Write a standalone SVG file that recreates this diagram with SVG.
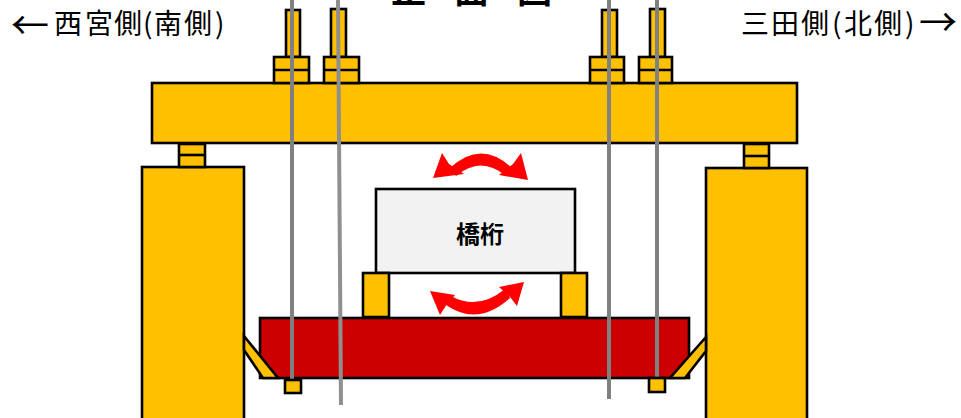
<svg xmlns="http://www.w3.org/2000/svg" width="961" height="418" viewBox="0 0 961 418">
  <style>
    .steel { fill: #FFC000; stroke: #000; stroke-width: 2.6; stroke-linejoin: miter; }
    .line { fill: none; stroke: #000; stroke-width: 2.6; }
    .rod { stroke: #808080; stroke-width: 4; fill: none; }
    .rod-light { stroke: #8f8f8f; stroke-width: 4; fill: none; }
    .label { font-family: "Noto Sans CJK JP", "Noto Sans", sans-serif; font-size: 28px; fill: #000; }
    .arrow-glyph { font-family: "Noto Sans CJK JP", "DejaVu Sans", sans-serif; font-size: 38px; fill: #000; }
    .title { font-family: "Noto Sans CJK JP", sans-serif; font-size: 35px; font-weight: bold; fill: #000; }
    .girder-text { font-family: "Noto Sans CJK JP", sans-serif; font-size: 24px; font-weight: bold; fill: #000; }
    .turn { fill: #FF0000; }
  </style>

  <!-- title, running off the top edge -->
  <text class="title" x="391" y="3">正</text>
  <text class="title" x="454" y="3">面</text>
  <text class="title" x="517" y="3">図</text>

  <!-- side labels -->
  <g id="label-west">
    <text class="arrow-glyph" x="11" y="39">←</text>
    <text class="label" y="34"><tspan x="54">西</tspan><tspan x="85">宮</tspan><tspan x="114">側</tspan><tspan x="143">(</tspan><tspan x="154">南</tspan><tspan x="184">側</tspan><tspan x="215">)</tspan></text>
  </g>
  <g id="label-north">
    <text class="label" y="34"><tspan x="741">三</tspan><tspan x="771">田</tspan><tspan x="801">側</tspan><tspan x="832">(</tspan><tspan x="844">北</tspan><tspan x="874">側</tspan><tspan x="905">)</tspan></text>
    <text class="arrow-glyph" x="919" y="36">→</text>
  </g>

  <!-- piers -->
  <g id="pier-south">
    <rect class="steel" x="142" y="167" width="102" height="260"/>
    <rect class="steel" x="179" y="144" width="26" height="23"/>
    <line class="line" x1="179" y1="155" x2="205" y2="155"/>
  </g>
  <g id="pier-north">
    <rect class="steel" x="706" y="168" width="101" height="260"/>
    <rect class="steel" x="744" y="144" width="25" height="24"/>
    <line class="line" x1="744" y1="156" x2="769" y2="156"/>
  </g>

  <!-- upper cross beam -->
  <g id="upper-beam">
    <rect class="steel" x="152" y="83" width="645" height="60"/>
  </g>

  <!-- jacks on top of the beam -->
  <g id="jack-1">
    <rect class="steel" x="286" y="10" width="14" height="47"/>
    <rect class="steel" x="274" y="57" width="35" height="26"/>
    <line class="line" x1="274" y1="70" x2="309" y2="70"/>
  </g>
  <g id="jack-2">
    <rect class="steel" x="331" y="9" width="15" height="48"/>
    <rect class="steel" x="324" y="57" width="35" height="26"/>
    <line class="line" x1="324" y1="70" x2="359" y2="70"/>
  </g>
  <g id="jack-3">
    <rect class="steel" x="602" y="10" width="15" height="47"/>
    <rect class="steel" x="590" y="57" width="34" height="26"/>
    <line class="line" x1="590" y1="70" x2="624" y2="70"/>
  </g>
  <g id="jack-4">
    <rect class="steel" x="650" y="9" width="15" height="48"/>
    <rect class="steel" x="639" y="57" width="33" height="26"/>
    <line class="line" x1="639" y1="70" x2="672" y2="70"/>
  </g>

  <!-- bridge girder with its bearings -->
  <g id="girder">
    <rect x="376" y="189" width="199" height="84" fill="#F2F2F2" stroke="#000" stroke-width="2.6"/>
    <text class="girder-text" x="456" y="243">橋桁</text>
  </g>
  <g id="bearing-south">
    <rect class="steel" x="363" y="273" width="26" height="44"/>
  </g>
  <g id="bearing-north">
    <rect class="steel" x="561" y="273" width="26" height="44"/>
  </g>

  <!-- lower red beam -->
  <g id="lower-beam">
    <rect x="260" y="318" width="429" height="60" fill="#CC0000" stroke="#000" stroke-width="2.6"/>
  </g>

  <!-- diagonal braces -->
  <g id="brace-south">
    <polygon class="steel" points="244,336 278,378 263,378 244,350"/>
  </g>
  <g id="brace-north">
    <polygon class="steel" points="706,337 670,378 685,378 706,351"/>
  </g>

  <!-- rotation arrows -->
  <g id="connectors">
    <path class="turn" d="M450,168 Q481,139 512,168 L506,176 Q481,155 456,176 Z"/>
    <polygon class="turn" points="433,178 442,153 449,164 464,174"/>
    <polygon class="turn" points="528,180 521,153 513,164 499,175"/>
    <path class="turn" d="M446,305 Q478,327 510,298 L505,289 Q478,311 451,296 Z"/>
    <polygon class="turn" points="430,291 455,295 447,304 440,315"/>
    <polygon class="turn" points="524,282 517,306 510,297 499,287"/>
  </g>

  <!-- hanger rods -->
  <g id="rods">
    <line class="rod" x1="292" y1="0" x2="292" y2="381"/>
    <line class="rod-light" x1="338" y1="0" x2="341" y2="405"/>
    <line class="rod" x1="609" y1="0" x2="609" y2="399"/>
    <line class="rod" x1="657" y1="0" x2="657" y2="378"/>
    <rect class="steel" x="285" y="380" width="16" height="13"/>
    <rect class="steel" x="649" y="378" width="16" height="14"/>
  </g>
</svg>
